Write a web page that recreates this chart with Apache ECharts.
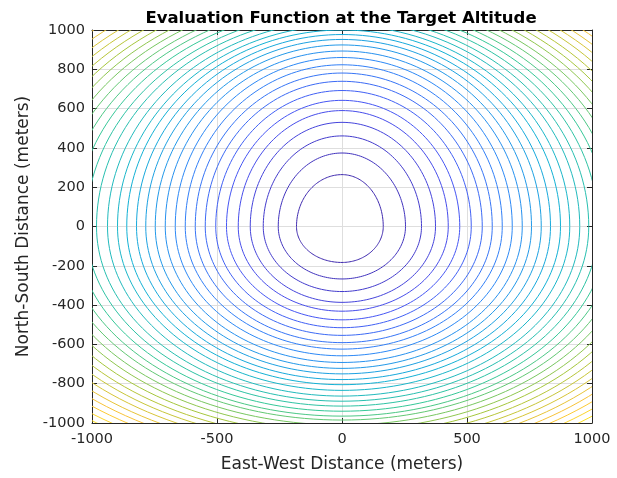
<!DOCTYPE html>
<html>
<head>
<meta charset="utf-8">
<script src="https://cdn.jsdelivr.net/npm/echarts@6/dist/echarts.min.js"></script>
<style>html,body{margin:0;padding:0;background:#fff}#c{width:617px;height:478px}</style>
</head>
<body>
<div id="c"></div>
<script>
// Contour levels (index 0 = innermost). Radii (meters) of each contour line measured
// from the origin along 8 rays: E, NE, N, NW, W, SW, S, SE (data-space directions).
const rE  = [165,254,318,374,425,471,517,561,601,641,681,721,758,797,834,874,911,951,987,1025,1063,1101,1139,1177,1215,1253,1291,1329,1367,1405,1443,1481,1519,1557,1595,1633];
const rNE = [198,297,370,432,488,537,586,632,674,715,755,793,829,864,897,931,962,995,1025,1057,1088,1119,1150,1180,1211,1241,1271,1302,1332,1361,1391,1421,1451,1480,1510,1540];
const rN  = [264,374,461,530,590,642,692,739,781,823,860,893,924,952,977,1000,1023,1046,1069,1092,1115,1138,1161,1184,1207,1230,1253,1276,1299,1322,1345,1368,1391,1414,1437,1460];
const rNW = [212,298,368,427,480,530,577,622,664,705,745,784,821,856,889,923,954,987,1023,1056,1090,1123,1155,1188,1220,1252,1284,1316,1347,1379,1410,1441,1472,1503,1534,1565];
const rW  = [182,255,315,367,415,462,505,547,587,627,667,707,747,785,822,861,898,938,982,1024,1066,1108,1150,1192,1234,1276,1318,1360,1402,1444,1486,1528,1570,1612,1654,1696];
const rSW = [183,261,323,376,423,468,510,550,589,625,662,699,734,767,800,832,864,898,932,964,997,1029,1058,1090,1121,1153,1185,1216,1247,1279,1310,1341,1373,1404,1435,1466];
const rS  = [183,267,331,386,431,475,515,554,591,624,658,692,722,750,779,805,834,863,889,914,940,965,985,1010,1035,1060,1085,1110,1135,1160,1185,1210,1235,1260,1285,1310];
const rSE = [173,260,324,380,428,473,516,557,596,632,669,706,739,772,805,837,870,904,934,965,996,1026,1054,1084,1114,1144,1175,1205,1235,1265,1295,1325,1355,1385,1415,1445];
const levelIndex = rE.map((_, i) => i);

// parula colormap anchors
const parula = [[62,38,168],[72,82,244],[46,135,247],[18,177,214],[55,200,151],[171,199,57],[254,195,56],[249,251,21]];
function parulaColor(t) {
  t = Math.max(0, Math.min(1, t));
  const s = t * (parula.length - 1);
  const i = Math.min(parula.length - 2, Math.floor(s));
  const f = s - i;
  const a = parula[i], b = parula[i + 1];
  const c = a.map((v, j) => Math.round(v + (b[j] - v) * f));
  return `rgb(${c[0]},${c[1]},${c[2]})`;
}

// exponent of the quadrant curve that passes through the axis radii and the diagonal radius
function quadExponent(a, b, d) {
  const u = d / Math.SQRT2;
  const f = p => Math.pow(u / a, p) + Math.pow(u / b, p) - 1;
  let lo = 0.6, hi = 30;
  if (f(lo) < 0) return lo;
  if (f(hi) > 0) return hi;
  for (let i = 0; i < 60; i++) {
    const m = (lo + hi) / 2;
    if (f(m) > 0) lo = m; else hi = m;
  }
  return (lo + hi) / 2;
}

const nLev = levelIndex.length;
const STEPS = 48;
function renderItem(params, api) {
  const k = api.value(0);
  const quads = [
    [rE[k], rN[k], rNE[k], 1, 1],
    [rW[k], rN[k], rNW[k], -1, 1],
    [rW[k], rS[k], rSW[k], -1, -1],
    [rE[k], rS[k], rSE[k], 1, -1]
  ];
  const pts = [];
  quads.forEach((q, qi) => {
    const [a, b, d, sx, sy] = q;
    const p = quadExponent(a, b, d);
    for (let i = 0; i < STEPS; i++) {
      let t = (i / STEPS) * Math.PI / 2;
      if (qi === 1 || qi === 3) t = Math.PI / 2 - t;
      const cx = Math.pow(Math.cos(t), 2 / p), cy = Math.pow(Math.sin(t), 2 / p);
      pts.push(api.coord([sx * a * cx, sy * b * cy]));
    }
  });
  return {
    type: 'polygon',
    shape: { points: pts },
    style: { fill: 'none', stroke: parulaColor((k + 0.5) / nLev), lineWidth: 1 }
  };
}

const axisColor = '#262626';
const font = 'DejaVu Sans, Liberation Sans, sans-serif';
const plain = v => String(v);
const chart = echarts.init(document.getElementById('c'), null, { renderer: 'canvas' });
const sideAxis = {
  type: 'value', min: -1000, max: 1000,
  axisLine: { show: true, onZero: false, lineStyle: { color: axisColor, width: 1 } },
  axisTick: { show: true, inside: true, length: 5, lineStyle: { color: axisColor } },
  axisLabel: { show: false }, splitLine: { show: false }
};
chart.setOption({
  animation: false,
  backgroundColor: '#fff',
  title: {
    text: 'Evaluation Function at the Target Altitude',
    left: 336, top: 5, textAlign: 'center',
    textStyle: { fontSize: 16.5, fontWeight: 'bold', color: '#000', fontFamily: font }
  },
  grid: { left: 92, top: 30, width: 500, height: 397, containLabel: false },
  xAxis: [{
    type: 'value', min: -1000, max: 1000, interval: 500, position: 'bottom',
    name: 'East-West Distance (meters)', nameLocation: 'middle', nameGap: 33,
    nameTextStyle: { fontSize: 17, color: axisColor, fontFamily: font },
    axisLine: { show: true, onZero: false, lineStyle: { color: axisColor, width: 1 } },
    axisTick: { show: true, inside: true, length: 5, lineStyle: { color: axisColor } },
    axisLabel: { color: axisColor, fontSize: 14.5, fontFamily: font, margin: 9, formatter: plain },
    splitLine: { show: true, lineStyle: { color: '#dedede', width: 1 } }
  }, Object.assign({}, sideAxis, { position: 'top', interval: 500 })],
  yAxis: [{
    type: 'value', min: -1000, max: 1000, interval: 200, position: 'left',
    name: 'North-South Distance (meters)', nameLocation: 'middle', nameGap: 49, nameRotate: 90,
    nameTextStyle: { fontSize: 17, color: axisColor, fontFamily: font },
    axisLine: { show: true, onZero: false, lineStyle: { color: axisColor, width: 1 } },
    axisTick: { show: true, inside: true, length: 5, lineStyle: { color: axisColor } },
    axisLabel: { color: axisColor, fontSize: 14.5, fontFamily: font, margin: 7, formatter: plain },
    splitLine: { show: true, lineStyle: { color: '#dedede', width: 1 } }
  }, Object.assign({}, sideAxis, { position: 'right', interval: 200 })],
  series: [{
    type: 'custom',
    coordinateSystem: 'cartesian2d',
    xAxisIndex: 0, yAxisIndex: 0,
    clip: true,
    renderItem: renderItem,
    data: levelIndex.map(k => [k, 0]),
    encode: { x: 0, y: 1 },
    silent: true,
    z: 1
  }]
});
</script>
</body>
</html>
